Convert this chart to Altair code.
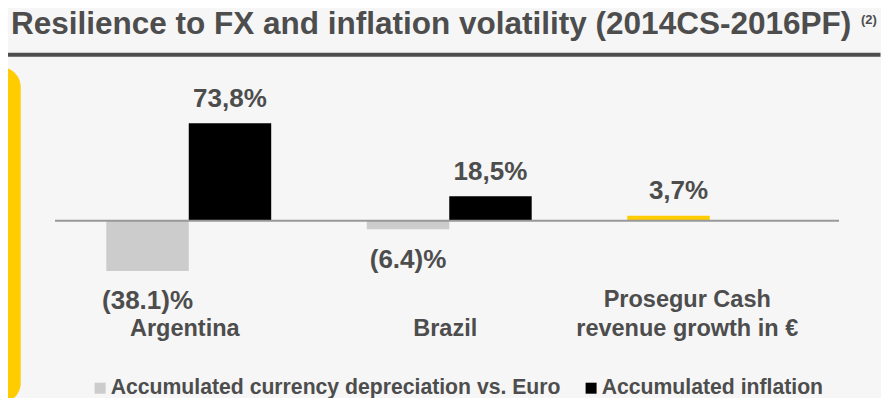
import altair as alt
import pandas as pd

# ---- data ----
categories = ["Argentina", "Brazil", "Prosegur"]
label_line1 = ["", "", "Prosegur Cash"]
label_line2 = ["Argentina", "Brazil", "revenue growth in €"]
series_names = [
    "Accumulated currency depreciation vs. Euro",
    "Accumulated inflation",
    "Prosegur Cash revenue growth in €",
]
series_colors = ["#cccccc", "#000000", "#ffcc00"]

row_category = ["Argentina", "Argentina", "Brazil", "Brazil", "Prosegur"]
row_series = [series_names[0], series_names[1], series_names[0], series_names[1], series_names[2]]
row_value = [-38.1, 73.8, -6.4, 18.5, 3.7]
row_label = ["(38.1)%", "73,8%", "(6.4)%", "18,5%", "3,7%"]

title_text = "Resilience to FX and inflation volatility (2014CS-2016PF)"
title_note = "(2)"

df = pd.DataFrame({
    "category": row_category,
    "series": row_series,
    "value": row_value,
    "label": row_label,
})
df["slot"] = ["b" if s == series_names[1] else "a" for s in df["series"]]

FONT = "Liberation Sans"
TXT = "#4d4d4d"
PW, PH = 788.5, 390
PAD = {"left": 47, "top": 0, "right": 37.5, "bottom": 0}

xscale = alt.Scale(domain=categories, paddingInner=0.367, paddingOuter=0.197)
yscale = alt.Scale(domain=[-134.32, 161.14], nice=False, zero=False)

base = alt.Chart(df)
X = alt.X("category:N", scale=xscale, axis=None)
XO = alt.XOffset("slot:N", scale=alt.Scale(domain=["a", "b"]))
Y = alt.Y("value:Q", scale=yscale, axis=None)

deco = pd.DataFrame({
    "title": [title_text],
    "note": [title_note],
    "yellow": ["#ffcc00"],
    "dark": ["#4d4d4d"],
    "grey": ["#999999"],
    "value": [0.0],
})
dbase = alt.Chart(deco)

side = dbase.mark_rect(cornerRadius=20).encode(
    x=alt.value(-87), x2=alt.value(-34.3), y=alt.value(59), y2=alt.value(395),
    color=alt.Color("yellow:N", scale=None),
)

title = dbase.mark_text(
    font=FONT, fontWeight="bold", fontSize=31.5, color=TXT,
    align="left", baseline="alphabetic",
).encode(x=alt.value(-44), y=alt.value(26), text="title:N")

note = dbase.mark_text(
    font=FONT, fontWeight="bold", fontSize=13, color=TXT,
    align="left", baseline="alphabetic",
).encode(x=alt.value(806), y=alt.value(15.5), text="note:N")

title_rule = dbase.mark_rule(strokeWidth=4).encode(
    x=alt.value(-47), x2=alt.value(825.5), y=alt.value(46.7),
    color=alt.Color("dark:N", scale=None),
)

zero_rule = dbase.mark_rule(strokeWidth=2).encode(
    x=alt.value(0), x2=alt.value(784), y=Y,
    color=alt.Color("grey:N", scale=None),
)

bars = base.mark_bar().encode(
    x=X, xOffset=XO, y=Y, y2=alt.Y2(datum=0),
    color=alt.Color(
        "series:N",
        scale=alt.Scale(domain=series_names, range=series_colors),
        legend=alt.Legend(
            values=series_names[:2], orient="none", legendX=34.5, legendY=369.5,
            direction="horizontal", title=None, padding=0,
            symbolType="square", symbolSize=121, symbolStrokeWidth=0,
            labelFont=FONT, labelFontWeight="bold", labelFontSize=21.2,
            labelColor=TXT, labelLimit=0, labelOffset=0, columnPadding=20,
        ),
    ),
)

lbl_kw = dict(font=FONT, fontWeight="bold", fontSize=26, color=TXT, align="center", baseline="alphabetic")

pos_labels = base.transform_filter(
    (alt.datum.value > 0) & (alt.datum.category != "Prosegur")
).mark_text(dy=-16.5, **lbl_kw).encode(x=X, xOffset=XO, y=Y, text="label:N")

growth_label = base.transform_filter(
    alt.datum.category == "Prosegur"
).mark_text(dy=-16.5, dx=10, **lbl_kw).encode(x=X, xOffset=XO, y=Y, text="label:N")

neg_labels = base.transform_filter(alt.datum.value < 0).mark_text(dy=38.5, **lbl_kw).encode(
    x=X, xOffset=XO, y=Y, text="label:N"
)

cat_df = pd.DataFrame({"category": categories, "line1": label_line1, "line2": label_line2})
cbase = alt.Chart(cat_df)
cat_kw = dict(font=FONT, fontWeight="bold", fontSize=23.5, color=TXT, align="center",
              baseline="alphabetic")
cat_main = cbase.transform_filter(
    alt.datum.category != "Prosegur"
).mark_text(dx=-4, **cat_kw).encode(x=X, y=alt.value(328), text="line2:N")
cat_last2 = cbase.transform_filter(
    alt.datum.category == "Prosegur"
).mark_text(dx=-22.5, **cat_kw).encode(x=X, y=alt.value(327.5), text="line2:N")
cat_last1 = cbase.transform_filter(
    alt.datum.category == "Prosegur"
).mark_text(dx=-22.5, **cat_kw).encode(x=X, y=alt.value(299), text="line1:N")

chart = alt.layer(
    side, title, note, title_rule, bars, zero_rule,
    pos_labels, growth_label, neg_labels, cat_main, cat_last2, cat_last1,
).properties(
    width=PW, height=PH, padding=PAD, background="#f6f6f6",
    autosize=alt.AutoSizeParams(type="none"),
).configure_view(stroke=None)

chart.save("out.html", embed_options={"renderer": "svg", "actions": False})
